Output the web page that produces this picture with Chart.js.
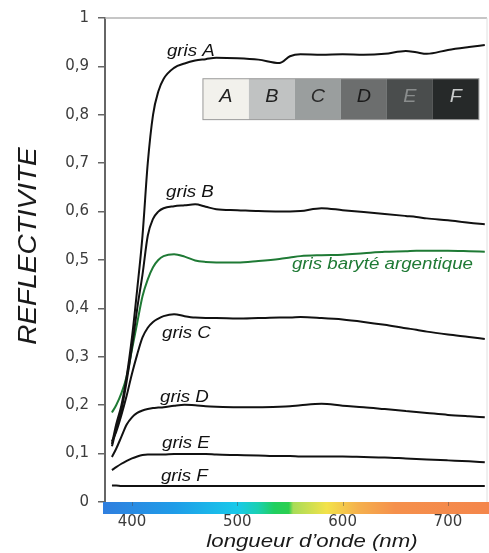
<!DOCTYPE html>
<html>
<head>
<meta charset="utf-8">
<script src="https://cdn.jsdelivr.net/npm/chart.js@4.4.1/dist/chart.umd.min.js"></script>
<style>
html, body { margin: 0; padding: 0; background: #fff; }
#wrap { width: 489px; height: 553px; position: relative; }
</style>
</head>
<body>
<div id="wrap"><canvas id="reflChart"></canvas></div>
<script>
// wavelengths (nm) shared by every curve
const wavelengths = [381, 385, 390, 395, 400, 405, 410, 415, 420, 425, 430, 440, 450, 460, 470, 480,
    500, 520, 540, 550, 560, 580, 600, 620, 640, 660, 670, 680, 700, 720, 735];

const grisA = [0.12, 0.16, 0.20, 0.26, 0.34, 0.44, 0.55, 0.70, 0.80, 0.848, 0.874, 0.897, 0.906, 0.912, 0.915, 0.918,
    0.917, 0.914, 0.907, 0.921, 0.925, 0.924, 0.925, 0.924, 0.926, 0.932, 0.929, 0.926, 0.934, 0.940, 0.944];
const grisB = [0.115, 0.15, 0.19, 0.25, 0.32, 0.40, 0.47, 0.55, 0.585, 0.60, 0.607, 0.611, 0.613, 0.615, 0.610, 0.605,
    0.603, 0.601, 0.600, 0.600, 0.601, 0.607, 0.603, 0.599, 0.595, 0.591, 0.589, 0.586, 0.582, 0.577, 0.574];
const grisBaryte = [0.185, 0.20, 0.225, 0.26, 0.315, 0.37, 0.425, 0.46, 0.485, 0.50, 0.508, 0.512, 0.507, 0.499, 0.496, 0.495,
    0.495, 0.498, 0.502, 0.505, 0.508, 0.510, 0.511, 0.514, 0.517, 0.518, 0.519, 0.519, 0.519, 0.518, 0.517];
const grisC = [0.125, 0.145, 0.18, 0.22, 0.265, 0.305, 0.34, 0.36, 0.372, 0.379, 0.384, 0.388, 0.384, 0.381, 0.380, 0.380,
    0.379, 0.380, 0.381, 0.381, 0.382, 0.380, 0.377, 0.372, 0.366, 0.359, 0.356, 0.352, 0.346, 0.341, 0.337];
const grisD = [0.093, 0.11, 0.135, 0.16, 0.175, 0.184, 0.189, 0.192, 0.194, 0.195, 0.196, 0.199, 0.201, 0.200, 0.198, 0.197,
    0.196, 0.196, 0.197, 0.198, 0.200, 0.203, 0.199, 0.196, 0.192, 0.188, 0.186, 0.184, 0.180, 0.177, 0.175];
const grisE = [0.066, 0.072, 0.079, 0.085, 0.090, 0.094, 0.097, 0.098, 0.098, 0.098, 0.098, 0.099, 0.099, 0.099, 0.099, 0.098,
    0.097, 0.096, 0.095, 0.095, 0.094, 0.094, 0.094, 0.093, 0.092, 0.090, 0.089, 0.088, 0.086, 0.084, 0.082];
const grisF = [0.034, 0.034, 0.033, 0.033, 0.033, 0.033, 0.033, 0.033, 0.033, 0.033, 0.033, 0.033, 0.033, 0.033, 0.033, 0.033,
    0.033, 0.033, 0.033, 0.033, 0.033, 0.033, 0.033, 0.033, 0.033, 0.033, 0.033, 0.033, 0.033, 0.033, 0.033];

const xTicks = [400, 500, 600, 700];

// grey sample strip
const swatchLetters = ['A', 'B', 'C', 'D', 'E', 'F'];
const swatchFills = ['#f2f1ec', '#c0c2c2', '#9a9e9e', '#6c6e6e', '#4a4d4d', '#262929'];
const swatchInk = ['#222', '#222', '#2a2a2a', '#1a1a1a', '#8a8d8d', '#c9cbcb'];

// spectrum bar under the axis
const spectrumNm = [374, 440, 500, 520, 535, 549, 553, 585, 615, 650, 737];
const spectrumColors = ['#2f7fdf', '#1f9ce8', '#18c9ea', '#1ad0b0', '#20cf60', '#2ccf4f', '#a8dc58', '#f3e24a', '#f5b04d', '#f5904c', '#f4864b'];

// curve names, anchored in data coords (nm, reflectivity)
const curveLabels = [
    { text: 'gris A', nm: 433.2, v: 0.922, color: '#111' },
    { text: 'gris B', nm: 432.3, v: 0.630, color: '#111' },
    { text: 'gris baryté argentique', nm: 551.9, v: 0.4815, color: '#1f7a35' },
    { text: 'gris C', nm: 428.5, v: 0.3395, color: '#111' },
    { text: 'gris D', nm: 426.6, v: 0.2058, color: '#111' },
    { text: 'gris E', nm: 428.5, v: 0.111, color: '#111' },
    { text: 'gris F', nm: 427.5, v: 0.0432, color: '#111' }
];

const labelFont = 'Liberation Sans, Arial, sans-serif';

function stretchText(ctx, text, x, y, sx, angle) {
    ctx.save();
    ctx.translate(x, y);
    if (angle) ctx.rotate(angle);
    ctx.scale(sx, 1);
    ctx.fillText(text, 0, 0);
    ctx.restore();
}

const decor = {
    id: 'decor',
    beforeDatasetsDraw(chart) {
        const { ctx, chartArea: a, scales: { x, y } } = chart;
        ctx.save();
        // frame top / right
        ctx.strokeStyle = '#b3b3b3';
        ctx.lineWidth = 1.5;
        ctx.beginPath(); ctx.moveTo(a.left, a.top); ctx.lineTo(a.right, a.top); ctx.stroke();
        ctx.strokeStyle = '#e0e0e0';
        ctx.lineWidth = 1;
        ctx.beginPath(); ctx.moveTo(a.right, a.top); ctx.lineTo(a.right, a.bottom); ctx.stroke();

        // grey strip
        const x0 = x.getPixelForValue(467.4), x1 = x.getPixelForValue(729.4);
        const y0 = y.getPixelForValue(0.8745), y1 = y.getPixelForValue(0.79);
        const w = (x1 - x0) / swatchFills.length;
        swatchFills.forEach((c, i) => {
            ctx.fillStyle = c;
            ctx.fillRect(x0 + i * w, y0, w, y1 - y0);
        });
        ctx.strokeStyle = '#999';
        ctx.strokeRect(x0, y0, x1 - x0, y1 - y0);
        ctx.font = 'italic 18px ' + labelFont;
        ctx.textAlign = 'center';
        ctx.textBaseline = 'alphabetic';
        const by = y.getPixelForValue(0.827);
        swatchLetters.forEach((l, i) => {
            ctx.fillStyle = swatchInk[i];
            stretchText(ctx, l, x0 + (i + 0.5) * w, by, 1.1);
        });
        ctx.restore();
    },
    afterDatasetsDraw(chart) {
        const { ctx, scales: { x, y } } = chart;
        ctx.save();
        ctx.font = 'italic 16px ' + labelFont;
        ctx.textAlign = 'left';
        ctx.textBaseline = 'alphabetic';
        curveLabels.forEach(l => {
            ctx.fillStyle = l.color;
            stretchText(ctx, l.text, x.getPixelForValue(l.nm), y.getPixelForValue(l.v), 1.17);
        });
        ctx.restore();
    },
    afterDraw(chart) {
        const { ctx, chartArea: a, scales: { x } } = chart;
        ctx.save();
        // spectrum bar
        const g0 = x.getPixelForValue(spectrumNm[0]);
        const g1 = x.getPixelForValue(spectrumNm[spectrumNm.length - 1]);
        const grad = ctx.createLinearGradient(g0, 0, g1, 0);
        spectrumNm.forEach((nm, i) => {
            grad.addColorStop((x.getPixelForValue(nm) - g0) / (g1 - g0), spectrumColors[i]);
        });
        ctx.fillStyle = grad;
        ctx.fillRect(a.left - 2, a.bottom, chart.width - a.left + 2, 12);
        ctx.strokeStyle = 'rgba(70,70,70,0.45)';
        ctx.lineWidth = 1;
        xTicks.forEach(t => {
            const px = Math.round(x.getPixelForValue(t)) + 0.5;
            ctx.beginPath(); ctx.moveTo(px, a.bottom); ctx.lineTo(px, a.bottom + 4); ctx.stroke();
        });

        // axis titles
        ctx.fillStyle = '#1a1a1a';
        ctx.textAlign = 'center';
        ctx.textBaseline = 'alphabetic';
        ctx.font = 'italic 19px ' + labelFont;
        stretchText(ctx, 'longueur d\u2019onde (nm)', 312, 547, 1.17);
        ctx.font = 'italic 25px ' + labelFont;
        stretchText(ctx, 'REFLECTIVITE', 36, 246, 1.12, -Math.PI / 2);
        ctx.restore();
    }
};

const series = [
    { label: 'gris A', data: grisA, color: '#111' },
    { label: 'gris B', data: grisB, color: '#111' },
    { label: 'gris baryté argentique', data: grisBaryte, color: '#1f7a35' },
    { label: 'gris C', data: grisC, color: '#111' },
    { label: 'gris D', data: grisD, color: '#111' },
    { label: 'gris E', data: grisE, color: '#111' },
    { label: 'gris F', data: grisF, color: '#111' }
];

new Chart(document.getElementById('reflChart'), {
    type: 'line',
    data: {
        datasets: series.map(s => ({
            label: s.label,
            data: wavelengths.map((nm, i) => ({ x: nm, y: s.data[i] })),
            borderColor: s.color,
            borderWidth: 2,
            pointRadius: 0,
            fill: false,
            cubicInterpolationMode: 'monotone'
        }))
    },
    options: {
        responsive: true,
        maintainAspectRatio: false,
        animation: false,
        layout: { padding: { top: 16, right: 2, left: 0, bottom: 0 } },
        plugins: {
            legend: { display: false },
            tooltip: { enabled: false }
        },
        scales: {
            x: {
                type: 'linear',
                min: 374.4,
                max: 737.1,
                afterBuildTicks: s => { s.ticks = xTicks.map(v => ({ value: v })); },
                afterFit: s => { s.height = 51; },
                grid: { display: false, drawTicks: false },
                border: { display: false },
                ticks: {
                    padding: 11,
                    color: '#3c3c3c',
                    font: { family: 'DejaVu Sans', size: 15 }
                }
            },
            y: {
                min: 0,
                max: 1,
                afterFit: s => { s.width = 105; },
                grid: { drawOnChartArea: false, color: '#666', tickLength: 7, lineWidth: 1.5 },
                border: { color: '#666', width: 2 },
                ticks: {
                    stepSize: 0.1,
                    padding: 9,
                    color: '#3c3c3c',
                    font: { family: 'DejaVu Sans', size: 15 },
                    callback: v => {
                        const r = Math.round(v * 10) / 10;
                        return r === 0 ? '0' : r === 1 ? '1' : r.toFixed(1).replace('.', ',');
                    }
                }
            }
        }
    },
    plugins: [decor]
});
</script>
</body>
</html>
